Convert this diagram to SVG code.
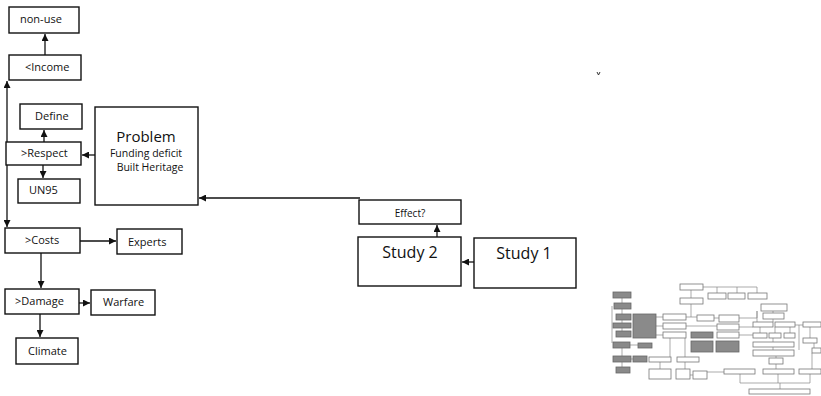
<svg xmlns="http://www.w3.org/2000/svg" width="821" height="396" viewBox="0 0 821 396">
<style>
.box{fill:#fff;stroke:#111;stroke-width:1.4}
.t{font-family:"Open Sans","Noto Sans",sans-serif;font-size:11px;fill:#111}
.tb{font-family:"Open Sans","Noto Sans",sans-serif;font-size:16px;fill:#111}
.ln{stroke:#111;stroke-width:1.3;fill:none}
.g{fill:#8a8a8a;stroke:#666;stroke-width:0.8}
.w{fill:#fff;stroke:#777;stroke-width:0.8}
.tl{stroke:#888;stroke-width:0.7;fill:none}
</style>
<defs>
<marker id="ah" viewBox="0 0 10 10" refX="10" refY="5" markerWidth="7" markerHeight="7" markerUnits="userSpaceOnUse" orient="auto">
<path d="M0,0 L10,5 L0,10 z" fill="#111"/>
</marker>
</defs>
<rect width="821" height="396" fill="#fff"/>

<g id="connectors">
<line class="ln" x1="45" y1="55" x2="45" y2="34" marker-end="url(#ah)"/>
<line class="ln" x1="7" y1="154" x2="7" y2="81" marker-end="url(#ah)"/>
<line class="ln" x1="7" y1="154" x2="7" y2="227" marker-end="url(#ah)"/>
<line class="ln" x1="44" y1="142" x2="44" y2="130" marker-end="url(#ah)"/>
<line class="ln" x1="43" y1="165" x2="43" y2="178" marker-end="url(#ah)"/>
<line class="ln" x1="95" y1="155" x2="82" y2="155" marker-end="url(#ah)"/>
<line class="ln" x1="80" y1="241" x2="116" y2="241" marker-end="url(#ah)"/>
<line class="ln" x1="41" y1="253" x2="41" y2="288" marker-end="url(#ah)"/>
<line class="ln" x1="79" y1="303" x2="90" y2="303" marker-end="url(#ah)"/>
<line class="ln" x1="40" y1="314" x2="40" y2="337" marker-end="url(#ah)"/>
<line class="ln" x1="360" y1="198" x2="199" y2="198" marker-end="url(#ah)"/>
<line class="ln" x1="437" y1="237" x2="437" y2="225" marker-end="url(#ah)"/>
<line class="ln" x1="474" y1="262" x2="462" y2="262" marker-end="url(#ah)"/>
</g>

<g id="non-use"><rect class="box" x="9" y="7" width="70" height="26"/><text class="t" x="20" y="23">non-use</text></g>
<g id="income"><rect class="box" x="9" y="55" width="72" height="25"/><text class="t" x="25" y="71">&lt;Income</text></g>
<g id="define"><rect class="box" x="20" y="104" width="62" height="25"/><text class="t" x="35" y="120">Define</text></g>
<g id="respect"><rect class="box" x="6" y="142" width="75" height="23"/><text class="t" x="21" y="157">&gt;Respect</text></g>
<g id="un95"><rect class="box" x="18" y="179" width="62" height="24"/><text class="t" x="29" y="194">UN95</text></g>
<g id="problem"><rect class="box" x="95" y="107" width="103" height="98"/>
<text class="tb" x="146" y="142" text-anchor="middle" style="font-size:15px">Problem</text>
<text class="t" x="146" y="157" text-anchor="middle" style="font-size:10.5px">Funding deficit</text>
<text class="t" x="150" y="171" text-anchor="middle" style="font-size:10.5px">Built Heritage</text></g>
<g id="costs"><rect class="box" x="5" y="228" width="75" height="25"/><text class="t" x="25" y="244">&gt;Costs</text></g>
<g id="experts"><rect class="box" x="117" y="229" width="65" height="25"/><text class="t" x="128" y="246">Experts</text></g>
<g id="damage"><rect class="box" x="5" y="289" width="74" height="25"/><text class="t" x="15" y="305">&gt;Damage</text></g>
<g id="warfare"><rect class="box" x="91" y="290" width="64" height="25"/><text class="t" x="103" y="306">Warfare</text></g>
<g id="climate"><rect class="box" x="16" y="338" width="62" height="26"/><text class="t" x="28" y="355">Climate</text></g>
<g id="effect"><rect class="box" x="359" y="200" width="102" height="24"/><text class="t" x="410" y="217" text-anchor="middle" style="font-size:10px">Effect?</text></g>
<g id="study2"><rect class="box" x="358" y="237" width="103" height="49"/><text class="tb" x="410" y="258" text-anchor="middle">Study 2</text></g>
<g id="study1"><rect class="box" x="474" y="238" width="102" height="50"/><text class="tb" x="524" y="259" text-anchor="middle">Study 1</text></g>

<path d="M597,72 l1.5,3 l1.5,-3" stroke="#333" stroke-width="1" fill="none"/>

<g id="thumbnail">
<g class="tl">
<path d="M612,306 V343 M622,298 V303 M622,309 V314 M622,320 V323 M622,328 V331 M622,348 V356 M622,362 V367 M630,345 H638 M631,359 H633"/>
<path d="M656,317 H663 M656,326 H663 M656,335 H663 M686,317 H697 M691,317 V304 M691,298 V290 M703,287 H757 M717,287 V293 M737,287 V293 M757,287 V293 M714,318 H719 M739,318 H757 V311 M686,326 H717 M739,327 H753 M739,335 H753"/>
<path d="M670,338 V357 M685,338 V357 M660,362 V369 M685,362 V369 M690,375 H693"/>
<path d="M757,311 V322 M773,311 V313 M773,319 V322 M795,325 H803 M799,325 V350 M760,327 V333 M775,327 V333 M790,327 V333 M773,338 V342 M773,347 V350 M776,356 V358 M776,364 V369 M810,327 V338 M814,343 V348 M812,353 V369"/>
<path d="M740,374 V383 M778,374 V383 M810,374 V383 M707,372 H724 M740,383 H810 M780,383 V389"/>
</g>
<rect class="g" x="613" y="292" width="18" height="6"/>
<rect class="g" x="614" y="303" width="17" height="6"/>
<rect class="g" x="616" y="314" width="15" height="6"/>
<rect class="g" x="613" y="323" width="18" height="5"/>
<rect class="g" x="616" y="331" width="15" height="6"/>
<rect class="g" x="613" y="342" width="17" height="6"/>
<rect class="g" x="638" y="343" width="14" height="5"/>
<rect class="g" x="613" y="356" width="18" height="6"/>
<rect class="g" x="633" y="356" width="14" height="6"/>
<rect class="g" x="616" y="367" width="14" height="6"/>
<rect class="g" x="633" y="314" width="23" height="24"/>
<rect class="g" x="691" y="332" width="22" height="6"/>
<rect class="g" x="691" y="341" width="22" height="11"/>
<rect class="g" x="716" y="341" width="23" height="11"/>
<rect class="w" x="663" y="314" width="23" height="6"/>
<rect class="w" x="663" y="323" width="23" height="6"/>
<rect class="w" x="663" y="332" width="23" height="6"/>
<rect class="w" x="680" y="284" width="23" height="6"/>
<rect class="w" x="680" y="298" width="23" height="6"/>
<rect class="w" x="708" y="293" width="18" height="6"/>
<rect class="w" x="728" y="293" width="17" height="6"/>
<rect class="w" x="748" y="293" width="19" height="6"/>
<rect class="w" x="697" y="315" width="17" height="6"/>
<rect class="w" x="719" y="315" width="20" height="7"/>
<rect class="w" x="717" y="324" width="22" height="6"/>
<rect class="w" x="717" y="332" width="22" height="6"/>
<rect class="w" x="649" y="357" width="22" height="5"/>
<rect class="w" x="677" y="357" width="22" height="5"/>
<rect class="w" x="649" y="369" width="22" height="10"/>
<rect class="w" x="676" y="369" width="14" height="10"/>
<rect class="w" x="693" y="371" width="14" height="8"/>
<rect class="w" x="724" y="369" width="31" height="5"/>
<rect class="w" x="763" y="369" width="31" height="5"/>
<rect class="w" x="799" y="369" width="22" height="5"/>
<rect class="w" x="749" y="389" width="61" height="5"/>
<rect class="w" x="769" y="358" width="14" height="6"/>
<rect class="w" x="753" y="350" width="41" height="6"/>
<rect class="w" x="753" y="342" width="41" height="5"/>
<rect class="w" x="753" y="333" width="14" height="5"/>
<rect class="w" x="769" y="333" width="12" height="5"/>
<rect class="w" x="784" y="333" width="11" height="5"/>
<rect class="w" x="753" y="322" width="20" height="5"/>
<rect class="w" x="775" y="322" width="20" height="5"/>
<rect class="w" x="763" y="313" width="21" height="6"/>
<rect class="w" x="761" y="304" width="26" height="7"/>
<rect class="w" x="803" y="322" width="18" height="5"/>
<rect class="w" x="803" y="338" width="14" height="5"/>
<rect class="w" x="812" y="348" width="9" height="5"/>
</g>
</svg>
